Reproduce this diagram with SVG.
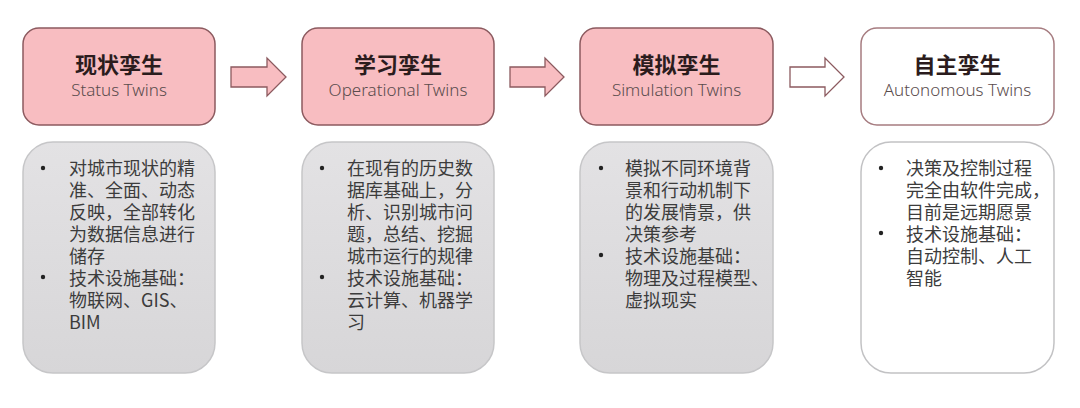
<svg xmlns="http://www.w3.org/2000/svg" width="1080" height="408" viewBox="0 0 1080 408">
  <defs>
    <linearGradient id="gray" x1="0" y1="0" x2="0" y2="1">
      <stop offset="0" stop-color="#e3e2e4"/>
      <stop offset="1" stop-color="#d7d6d8"/>
    </linearGradient>
    <style>
      .head-pink { fill: #f8bdc1; stroke: #8c5a5f; stroke-width: 1.5; }
      .head-white { fill: #ffffff; stroke: #a67c80; stroke-width: 1.5; }
      .body-gray { fill: url(#gray); stroke: #c6c6c8; stroke-width: 1.5; }
      .body-white { fill: #ffffff; stroke: #c2c2c4; stroke-width: 1.5; }
      .arrow-pink { fill: #f8bdc1; stroke: #8c5a5f; stroke-width: 1.3; }
      .arrow-white { fill: #ffffff; stroke: #8c5a5f; stroke-width: 1.3; }
      .title { font-family: "Noto Sans CJK SC", "Noto Sans", sans-serif; font-size: 22px; font-weight: bold; fill: #2b1c1d; text-anchor: middle; }
      .sub { font-family: "Noto Sans", "Liberation Sans", sans-serif; font-size: 17px; font-weight: 300; fill: #5a4c4d; text-anchor: middle; }
      .txt { font-family: "Noto Sans CJK SC", "Noto Sans", sans-serif; font-size: 18px; fill: #3c3c3c; }
      .dot { fill: #222222; }
    </style>
  </defs>
  <rect width="1080" height="408" fill="#ffffff"/>

  <g id="connectors">
    <path class="arrow-pink" d="M231,67 H267 V58 L286,77 L267,96 V87 H231 Z"/>
    <path class="arrow-pink" d="M510,67 H545 V58 L564,77 L545,96 V87 H510 Z"/>
    <path class="arrow-white" d="M790,67 H825 V58 L844,77 L825,96 V87 H790 Z"/>
  </g>

  <g id="status-twins">
    <rect class="head-pink" x="23" y="28" width="192" height="97" rx="16"/>
    <text class="title" x="119" y="73">现状孪生</text>
    <text class="sub" x="119" y="96">Status Twins</text>
  </g>
  <g id="operational-twins">
    <rect class="head-pink" x="302" y="28" width="192" height="97" rx="16"/>
    <text class="title" x="398" y="73">学习孪生</text>
    <text class="sub" x="398" y="96">Operational Twins</text>
  </g>
  <g id="simulation-twins">
    <rect class="head-pink" x="580" y="28" width="193" height="97" rx="16"/>
    <text class="title" x="676.5" y="73">模拟孪生</text>
    <text class="sub" x="676.5" y="96">Simulation Twins</text>
  </g>
  <g id="autonomous-twins">
    <rect class="head-white" x="861" y="28" width="193" height="97" rx="16"/>
    <text class="title" x="957.5" y="73">自主孪生</text>
    <text class="sub" x="957.5" y="96">Autonomous Twins</text>
  </g>

  <g id="status-details">
    <rect class="body-gray" x="23" y="142" width="192" height="231" rx="30"/>
    <circle class="dot" cx="43" cy="168" r="2.2"/>
    <circle class="dot" cx="43" cy="277" r="2.2"/>
    <text class="txt">
      <tspan x="69" y="175">对城市现状的精</tspan>
      <tspan x="69" y="197">准、全面、动态</tspan>
      <tspan x="69" y="219">反映，全部转化</tspan>
      <tspan x="69" y="241">为数据信息进行</tspan>
      <tspan x="69" y="263">储存</tspan>
      <tspan x="69" y="285">技术设施基础：</tspan>
      <tspan x="69" y="307">物联网、GIS、</tspan>
      <tspan x="69" y="329">BIM</tspan>
    </text>
  </g>
  <g id="operational-details">
    <rect class="body-gray" x="302" y="142" width="192" height="231" rx="30"/>
    <circle class="dot" cx="322" cy="168" r="2.2"/>
    <circle class="dot" cx="322" cy="277" r="2.2"/>
    <text class="txt">
      <tspan x="347" y="175">在现有的历史数</tspan>
      <tspan x="347" y="197">据库基础上，分</tspan>
      <tspan x="347" y="219">析、识别城市问</tspan>
      <tspan x="347" y="241">题，总结、挖掘</tspan>
      <tspan x="347" y="263">城市运行的规律</tspan>
      <tspan x="347" y="285">技术设施基础：</tspan>
      <tspan x="347" y="307">云计算、机器学</tspan>
      <tspan x="347" y="329">习</tspan>
    </text>
  </g>
  <g id="simulation-details">
    <rect class="body-gray" x="580" y="142" width="193" height="231" rx="30"/>
    <circle class="dot" cx="601" cy="168" r="2.2"/>
    <circle class="dot" cx="601" cy="255" r="2.2"/>
    <text class="txt">
      <tspan x="625" y="175">模拟不同环境背</tspan>
      <tspan x="625" y="197">景和行动机制下</tspan>
      <tspan x="625" y="219">的发展情景，供</tspan>
      <tspan x="625" y="241">决策参考</tspan>
      <tspan x="625" y="263">技术设施基础：</tspan>
      <tspan x="625" y="285">物理及过程模型、</tspan>
      <tspan x="625" y="307">虚拟现实</tspan>
    </text>
  </g>
  <g id="autonomous-details">
    <rect class="body-white" x="861" y="142" width="193" height="231" rx="30"/>
    <circle class="dot" cx="881" cy="168" r="2.2"/>
    <circle class="dot" cx="881" cy="233" r="2.2"/>
    <text class="txt">
      <tspan x="906" y="175">决策及控制过程</tspan>
      <tspan x="906" y="197">完全由软件完成，</tspan>
      <tspan x="906" y="219">目前是远期愿景</tspan>
      <tspan x="906" y="241">技术设施基础：</tspan>
      <tspan x="906" y="263">自动控制、人工</tspan>
      <tspan x="906" y="285">智能</tspan>
    </text>
  </g>
</svg>
